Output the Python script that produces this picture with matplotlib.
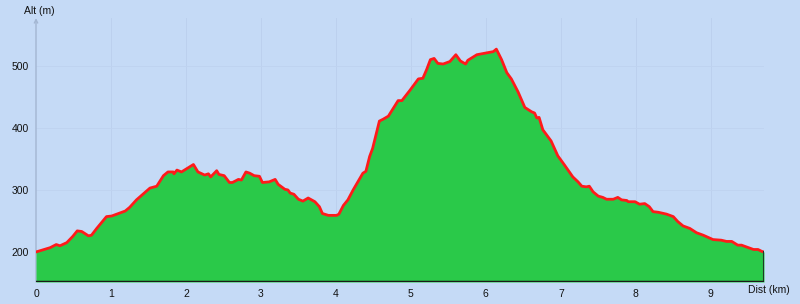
import matplotlib
matplotlib.use("Agg")
import matplotlib.pyplot as plt

dist_km = [0.00, 0.19, 0.27, 0.32, 0.41, 0.49, 0.55, 0.61, 0.70, 0.74, 0.81, 0.94, 1.01, 1.10, 1.19, 1.25,
           1.34, 1.52, 1.61, 1.70, 1.76, 1.83, 1.84, 1.88, 1.94, 2.10, 2.16, 2.25, 2.30, 2.33, 2.41, 2.44,
           2.51, 2.58, 2.62, 2.70, 2.74, 2.80, 2.85, 2.91, 2.98, 3.02, 3.11, 3.19, 3.23, 3.32, 3.36, 3.39,
           3.44, 3.50, 3.56, 3.63, 3.72, 3.78, 3.82, 3.90, 4.01, 4.04, 4.10, 4.16, 4.23, 4.36, 4.40, 4.45,
           4.49, 4.58, 4.63, 4.70, 4.83, 4.88, 4.99, 5.10, 5.16, 5.21, 5.26, 5.31, 5.36, 5.43, 5.52, 5.60,
           5.66, 5.73, 5.76, 5.88, 6.01, 6.10, 6.14, 6.21, 6.28, 6.34, 6.43, 6.52, 6.61, 6.65, 6.68, 6.71,
           6.76, 6.87, 6.96, 7.05, 7.16, 7.23, 7.28, 7.34, 7.38, 7.43, 7.50, 7.56, 7.61, 7.70, 7.76, 7.81,
           7.88, 7.90, 7.99, 8.05, 8.12, 8.18, 8.23, 8.30, 8.41, 8.50, 8.56, 8.63, 8.72, 8.81, 8.90, 9.03,
           9.14, 9.21, 9.28, 9.36, 9.41, 9.48, 9.57, 9.63, 9.68, 9.71]
alt_m = [200, 207, 212, 210, 215, 225, 234, 233, 226, 227, 238, 257, 258, 262, 266, 272,
         284, 303, 306, 323, 329, 329, 326, 332, 329, 341, 329, 324, 326, 321, 331, 325,
         323, 312, 312, 317, 316, 329, 327, 323, 322, 312, 313, 317, 309, 301, 300, 295,
         293, 285, 282, 287, 281, 273, 262, 259, 259, 261, 275, 284, 300, 327, 330, 354,
         367, 411, 414, 419, 444, 444, 461, 479, 480, 494, 510, 512, 504, 503, 507, 518,
         508, 503, 509, 518, 521, 523, 527, 510, 489, 479, 458, 433, 426, 424, 416, 417,
         397, 379, 355, 340, 321, 313, 306, 305, 306, 297, 290, 288, 285, 285, 288, 284,
         283, 281, 281, 277, 278, 273, 265, 264, 261, 257, 249, 242, 238, 231, 227, 220,
         219, 217, 217, 211, 211, 208, 204, 204, 201, 200]
x_ticks = [0, 1, 2, 3, 4, 5, 6, 7, 8, 9]
y_ticks = [200, 300, 400, 500]

bg = "#c5daf6"
fig = plt.figure(figsize=(8, 3.04), dpi=100, facecolor=bg)
ax = fig.add_axes([0.045, 0.0724, 0.91, 0.868], facecolor=bg)
ymin, ymax = 151.6, 577
ax.set_xlim(0, 9.71)
ax.set_ylim(ymin, ymax)

for x in x_ticks[1:]:
    ax.axvline(x, color="#bcd0ee", lw=0.7, zorder=0)
for y in y_ticks:
    ax.axhline(y, color="#bfd3f0", lw=0.7, zorder=0)

ax.fill_between(dist_km, alt_m, ymin, color="#2ac949", lw=0, zorder=2)
ax.plot(dist_km, alt_m, color="#ff1a1a", lw=2.0, zorder=3, solid_joinstyle="round")
ax.plot([dist_km[-1], dist_km[-1]], [ymin, alt_m[-1]], color="#1d3b24", lw=1.5, zorder=3)
ax.axhline(ymin, color="#1a1a1a", lw=2.5, zorder=4)

for s in ax.spines.values():
    s.set_visible(False)
ax.annotate("", xy=(0, ymax), xytext=(0, ymin), xycoords="data",
            arrowprops=dict(arrowstyle="->", color="#a3b6d2", lw=1.0, shrinkA=0, shrinkB=0,
                            mutation_scale=6),
            zorder=1, annotation_clip=False)

ax.set_xticks(x_ticks)
ax.set_yticks(y_ticks)
ax.set_xticklabels([str(v) for v in x_ticks])
ax.set_yticklabels([str(v) for v in y_ticks])
ax.tick_params(length=0, labelsize=7.5, colors="#111111", pad=5,
               labelfontfamily="Liberation Sans")

fig.text(0.03, 0.965, "Alt (m)", fontsize=7.5, family="Liberation Sans", ha="left", va="center", color="#111111")
fig.text(0.935, 0.046, "Dist (km)", fontsize=7.5, family="Liberation Sans", ha="left", va="center", color="#111111")

fig.savefig("out.png", dpi=100, facecolor=bg)
